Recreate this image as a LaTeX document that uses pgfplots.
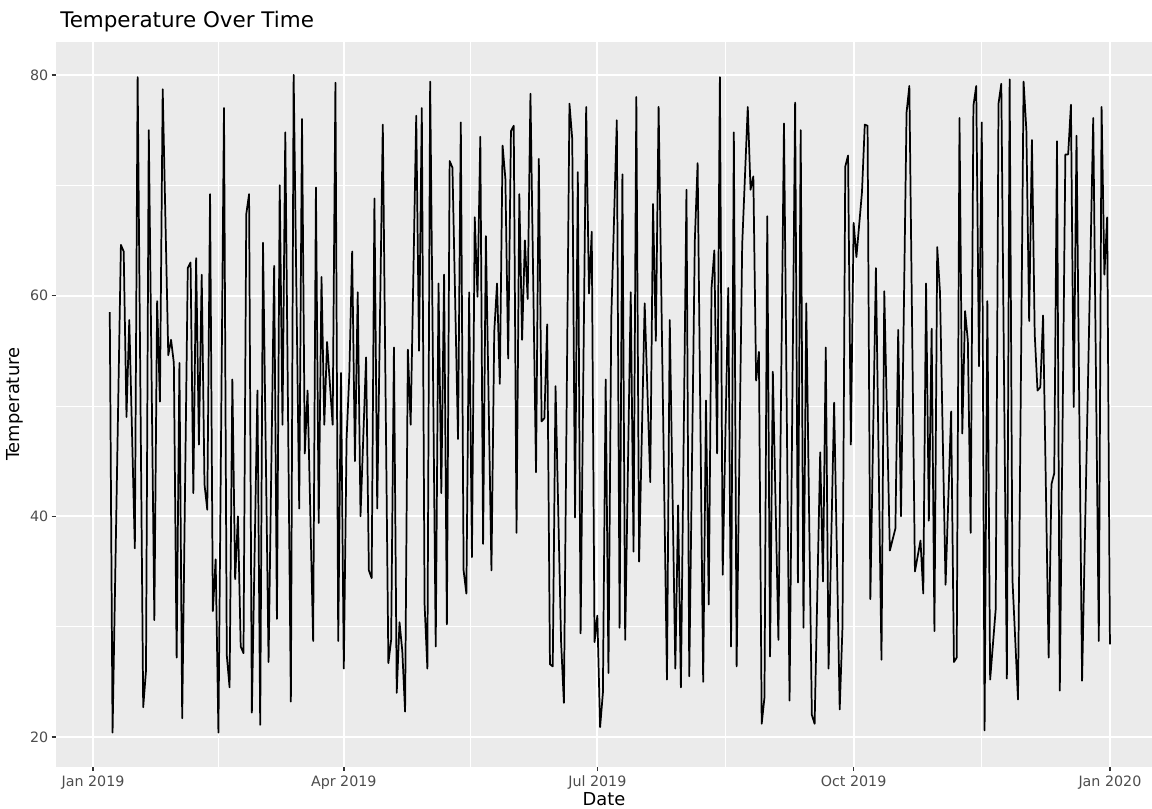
\documentclass[border=0pt]{standalone}
\usepackage{fontspec}
\setmainfont{DejaVu Sans}
\usepackage{pgfplots}
\usepackage{pgfplotstable}
\pgfplotsset{compat=1.18}

\definecolor{panelgray}{HTML}{EBEBEB}
\definecolor{ticktext}{HTML}{4D4D4D}
\definecolor{tickline}{HTML}{333333}

% day = days after 1 Jan 2019, temp
\pgfplotstableread{
day temp
6 58.5
7 20.4
10 64.6
11 64.0
12 49.0
13 57.8
15 37.1
16 79.8
18 22.7
19 26.0
20 75.0
22 30.6
23 59.5
24 50.4
25 78.7
27 54.6
28 56.0
29 53.9
30 27.2
31 53.9
32 21.7
34 62.5
35 63.0
36 42.1
37 63.4
38 46.5
39 61.9
40 42.9
41 40.6
42 69.2
43 31.4
44 36.1
45 20.4
47 77.0
48 27.4
49 24.5
50 52.4
51 34.3
52 40.0
53 28.2
54 27.6
55 67.4
56 69.2
57 22.2
59 51.4
60 21.1
61 64.8
63 26.8
65 62.7
66 30.7
67 70.0
68 48.3
69 74.8
71 23.2
72 80.0
74 40.7
75 76.0
76 45.7
77 51.4
79 28.7
80 69.8
81 39.4
82 61.7
83 48.3
84 55.8
86 48.3
87 79.3
88 28.7
89 53.0
90 26.2
91 47.0
92 53.0
93 64.0
94 45.0
95 60.3
96 40.0
98 54.4
99 35.1
100 34.4
101 68.8
102 40.7
104 75.5
106 26.7
107 28.8
108 55.3
109 24.0
110 30.4
111 27.8
112 22.3
113 55.1
114 48.3
116 76.3
117 55.0
118 77.0
119 32.0
120 26.2
121 79.4
123 28.2
124 61.1
125 42.1
126 61.9
127 30.2
128 72.2
129 71.6
131 47.0
132 75.7
133 35.1
134 33.0
135 60.3
136 36.3
137 67.1
138 59.9
139 74.4
140 37.5
141 65.4
143 35.1
144 56.7
145 61.1
146 52.0
147 73.6
148 70.6
149 54.3
150 74.9
151 75.4
152 38.5
153 69.2
154 56.0
155 65.0
156 59.7
157 78.3
159 44.0
160 72.4
161 48.6
162 48.9
163 57.4
164 26.6
165 26.4
166 51.8
168 28.6
169 23.1
171 77.4
172 74.2
173 39.9
174 71.2
175 29.4
177 77.1
178 60.2
179 65.8
180 28.6
181 31.0
182 20.9
183 24.0
184 52.4
185 25.8
186 57.9
188 75.9
189 29.9
190 71.0
191 28.8
193 60.3
194 36.8
195 78.0
196 35.9
198 59.3
200 43.1
201 68.3
202 55.9
203 77.1
206 25.2
207 57.8
209 26.2
210 41.0
211 24.5
213 69.6
214 25.5
216 65.0
217 72.0
219 25.0
220 50.5
221 32.0
222 60.7
223 64.1
224 45.7
225 79.8
226 34.7
228 60.7
229 28.2
230 74.8
231 26.4
233 64.6
235 77.1
236 69.6
237 70.8
238 52.3
239 54.9
240 21.2
241 23.6
242 67.2
243 27.3
244 53.1
246 28.8
248 75.6
250 23.3
252 77.5
253 34.0
254 75.0
255 29.9
256 59.3
258 22.0
259 21.2
261 45.8
262 34.1
263 55.3
264 26.2
266 50.3
268 22.5
269 30.0
270 71.7
271 72.7
272 46.5
273 66.6
274 63.5
276 69.4
277 75.5
278 75.4
279 32.5
281 62.5
283 27.0
284 60.4
286 36.9
287 37.9
288 38.9
289 56.9
290 40.0
292 76.6
293 79.0
295 35.0
297 37.8
298 33.0
299 61.1
300 39.6
301 57.0
302 29.6
303 64.4
304 60.3
306 33.8
308 49.5
309 26.8
310 27.2
311 76.1
312 47.5
313 58.6
314 55.9
315 38.5
316 77.2
317 79.0
318 53.6
319 75.7
320 20.6
321 59.5
322 25.2
324 31.6
325 77.4
326 79.2
328 25.3
329 79.6
330 34.3
332 23.4
334 79.4
335 75.0
336 57.7
337 74.1
338 56.5
339 51.4
340 51.7
341 58.2
343 27.2
344 42.9
345 43.9
346 74.0
347 24.2
349 72.8
350 72.8
351 77.3
352 49.9
353 74.5
355 25.1
359 76.1
361 28.7
362 77.1
363 61.9
364 67.1
365 28.4
}\tempdata

\begin{document}
\begin{tikzpicture}
\path[use as bounding box] (-42pt,-31.65pt) rectangle (822pt,575.1pt);
\begin{axis}[
    at={(0,0)}, anchor=south west,
    scale only axis,
    width=822pt, height=543.7pt,
    xmin=-13.3, xmax=380.1,
    ymin=17.3, ymax=83,
    axis background/.style={fill=panelgray},
    axis line style={draw=none},
    xtick={0,90,181,273,365},
    xticklabels={Jan 2019,Apr 2019,Jul 2019,Oct 2019,Jan 2020},
    minor xtick={45,135.5,227,319},
    ytick={20,40,60,80},
    minor ytick={30,50,70},
    grid=both,
    major grid style={white, line width=1.3pt},
    minor grid style={white, line width=0.65pt},
    tick pos=left,
    tick align=outside,
    major tick length=3.3pt,
    minor tick length=0pt,
    tick style={tickline, line width=1.2pt},
    ticklabel style={font=\fontsize{10.7}{12}\selectfont, text=ticktext},
    yticklabel style={/pgf/number format/assume math mode=true, xshift=1pt},
    xlabel={Date},
    ylabel={Temperature},
    label style={font=\fontsize{13.4}{15}\selectfont},
    xlabel style={yshift=4.5pt},
    ylabel style={yshift=-2pt},
]
\addplot[black, line width=1.3pt, line join=round] table[x=day, y=temp] {\tempdata};
\end{axis}
\node[anchor=base west, font=\fontsize{16.1}{18}\selectfont, inner sep=0pt]
    at ([xshift=3pt, yshift=10.4pt]current axis.north west) {Temperature Over Time};
\end{tikzpicture}
\end{document}
